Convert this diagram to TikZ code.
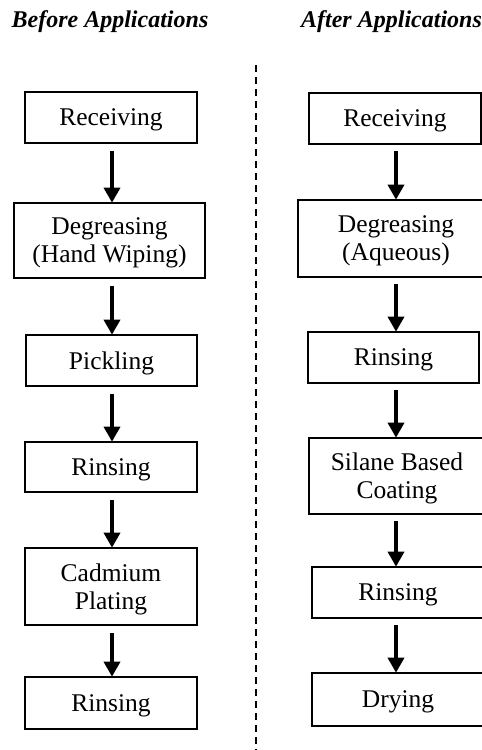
\documentclass[tikz,border=0pt]{standalone}
\usepackage{fontspec}
\setmainfont{Liberation Serif}
\usetikzlibrary{arrows.meta}
\begin{document}
\begin{tikzpicture}[x=1pt,y=-1pt,
  procbox/.style={draw, line width=1.6pt, inner sep=0pt, align=center,
    text depth=-2pt, font=\fontsize{25.5}{28}\selectfont},
  flowarrow/.style={line width=3.4pt, -{Triangle[width=16pt,length=15pt]}, shorten >=-0.5pt},
  headtext/.style={font=\fontsize{24}{28}\selectfont\bfseries\itshape, inner sep=0pt}]
\useasboundingbox (0,0) rectangle (482,750);
\fill[white] (0,0) rectangle (482,750);
% titles
\node[headtext] (tl) at (110,22) {Before Applications};
\node[headtext] (tr) at (391.5,22) {After Applications};
% divider
\coordinate (dtop) at (256,65);
\coordinate (dbot) at (256,750);
\draw[line width=1.3pt, dash pattern=on 7pt off 5pt] (dtop) -- (dbot);
% left column
\node[procbox, minimum width=172pt, minimum height=51pt] (L1) at (111,117.5) {Receiving};
\node[procbox, minimum width=191pt, minimum height=75pt] (L2) at (109.5,240.5) {Degreasing\\(Hand Wiping)};
\node[procbox, minimum width=171pt, minimum height=51pt] (L3) at (111.5,360.5) {Pickling};
\node[procbox, minimum width=172pt, minimum height=50pt] (L4) at (111,467) {Rinsing};
\node[procbox, minimum width=172pt, minimum height=77pt] (L5) at (111,586.5) {Cadmium\\Plating};
\node[procbox, minimum width=172pt, minimum height=52pt] (L6) at (111,703) {Rinsing};
% right column
\node[procbox, minimum width=172pt, minimum height=51pt] (R1) at (395,118.5) {Receiving};
\node[procbox, minimum width=196pt, minimum height=77pt] (R2) at (396,238.5) {Degreasing\\(Aqueous)};
\node[procbox, minimum width=171pt, minimum height=51pt] (R3) at (393.5,357.5) {Rinsing};
\node[procbox, minimum width=176pt, minimum height=76pt] (R4) at (397,476) {Silane Based\\Coating};
\node[procbox, minimum width=172pt, minimum height=51pt] (R5) at (398,592.5) {Rinsing};
\node[procbox, minimum width=172pt, minimum height=53pt] (R6) at (398,699.5) {Drying};
% left arrows
\coordinate (lx) at (112,0);
\foreach \a/\b in {L1/L2,L2/L3,L3/L4,L4/L5,L5/L6}{
  \draw[flowarrow] ([yshift=-7pt]lx |- \a.south) -- (lx |- \b.north);
}
% right arrows
\coordinate (rx) at (396,0);
\foreach \a/\b in {R1/R2,R2/R3,R3/R4,R4/R5,R5/R6}{
  \draw[flowarrow] ([yshift=-6pt]rx |- \a.south) -- (rx |- \b.north);
}
\end{tikzpicture}
\end{document}
